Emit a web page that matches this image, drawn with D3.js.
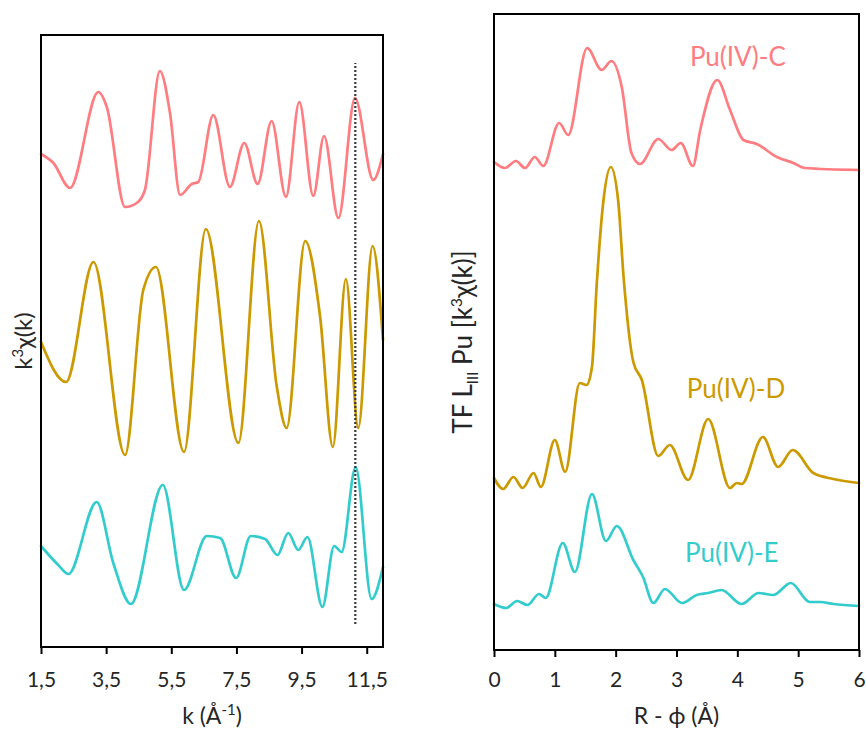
<!DOCTYPE html>
<html><head><meta charset="utf-8">
<script src="https://cdn.jsdelivr.net/npm/d3@7"></script>
<style>body{margin:0;background:#fff}</style>
</head><body><svg id="c" width="866" height="731"></svg>
<script>
// ---------- DATA ----------
const seriesNames = ["Pu(IV)-C", "Pu(IV)-D", "Pu(IV)-E"];
const seriesColors = ["#FF7C80", "#CC9900", "#33CCCC"];

// k-space (stacked, arbitrary units)
const kC   = [1.5, 1.88, 2.39, 3.26, 3.52, 4.08, 4.44, 4.69, 5.15, 5.46, 5.77, 6.13, 6.33, 6.79, 7.30, 7.74, 8.15, 8.58, 9.02, 9.43, 9.86, 10.19, 10.63, 11.14, 11.70, 12.0];
const chiC = [49.3, 48.4, 45.9, 55.5, 54.0, 44.0, 44.4, 45.7, 57.6, 53.4, 45.2, 46.3, 46.5, 53.2, 46.0, 50.4, 46.3, 52.6, 45.0, 54.5, 45.1, 51.1, 42.9, 54.9, 46.7, 49.3];

const kD   = [1.5, 2.27, 3.11, 4.08, 4.64, 5.03, 5.89, 6.56, 7.56, 8.19, 8.74, 9.04, 9.61, 10.07, 10.46, 10.86, 11.24, 11.68, 12.0];
const chiD = [30.5, 26.5, 38.5, 19.2, 35.7, 38.0, 19.5, 41.8, 20.4, 42.6, 26.0, 21.9, 40.6, 33.0, 20.0, 36.8, 21.9, 40.1, 30.7];

const kE   = [1.5, 2.03, 2.34, 3.21, 3.72, 4.26, 5.24, 5.89, 6.59, 7.0, 7.49, 7.94, 8.38, 8.76, 9.09, 9.40, 9.68, 10.14, 10.50, 10.73, 11.16, 11.65, 12.0];
const chiE = [10.1, 8.2, 7.3, 14.5, 8.4, 4.3, 16.2, 5.7, 11.1, 10.9, 6.9, 11.1, 10.8, 9.2, 11.4, 9.7, 11.0, 4.0, 10.1, 9.5, 18.0, 4.8, 8.0];

const kMarker = 11.15;
const kMarkerSpan = [2.3, 58.4];

// R-space FT magnitude (stacked, arbitrary units)
const rC  = [0, 0.18, 0.36, 0.51, 0.67, 0.81, 1.07, 1.22, 1.53, 1.77, 1.93, 2.10, 2.26, 2.40, 2.70, 2.92, 3.07, 3.27, 3.39, 3.67, 3.88, 4.10, 4.32, 4.65, 4.92, 5.11, 6.0];
const ftC = [48.8, 48.2, 48.9, 48.2, 49.3, 48.4, 52.7, 51.5, 60.2, 58.0, 58.9, 56.3, 49.7, 48.6, 51.1, 50.0, 50.7, 48.4, 52.0, 57.0, 54.0, 51.0, 50.6, 49.3, 48.7, 48.2, 48.0];

const rD  = [0, 0.15, 0.32, 0.47, 0.65, 0.77, 1.00, 1.17, 1.41, 1.52, 1.61, 1.69, 1.80, 1.92, 2.04, 2.13, 2.29, 2.43, 2.70, 2.89, 3.19, 3.52, 3.88, 3.99, 4.07, 4.42, 4.67, 4.91, 5.25, 5.58, 6.0];
const ftD = [17.2, 16.1, 17.3, 16.2, 17.7, 16.3, 21.0, 17.8, 26.7, 26.5, 28.3, 36.7, 45.0, 48.3, 45.0, 37.3, 28.8, 27.0, 19.4, 20.5, 17.0, 23.1, 16.2, 16.7, 16.6, 21.3, 18.3, 20.0, 17.7, 17.1, 16.7];

const rE  = [0, 0.20, 0.38, 0.55, 0.74, 0.85, 1.13, 1.33, 1.61, 1.84, 2.02, 2.29, 2.45, 2.62, 2.81, 3.09, 3.33, 3.52, 3.74, 4.07, 4.35, 4.59, 4.88, 5.19, 5.36, 5.58, 6.0];
const ftE = [4.6, 4.2, 4.9, 4.5, 5.6, 5.2, 10.7, 7.8, 15.6, 10.9, 12.4, 9.0, 7.3, 4.7, 6.1, 4.7, 5.5, 5.7, 6.0, 4.6, 5.7, 5.5, 6.7, 4.8, 4.8, 4.6, 4.4];

// series labels in R panel (R position, value position)
const labelR = [3.22, 3.17, 3.14];
const labelV = [58.4, 25.2, 8.8];

// ticks
const kTickValues = [1.5, 3.5, 5.5, 7.5, 9.5, 11.5];
const kTickLabels = ["1,5", "3,5", "5,5", "7,5", "9,5", "11,5"];
const rTickValues = [0, 1, 2, 3, 4, 5, 6];
const rTickLabels = ["0", "1", "2", "3", "4", "5", "6"];

// ---------- DRAW ----------
const FONT = "Lato, 'Open Sans', 'DejaVu Sans', sans-serif";
const svg = d3.select("#c").style("font-family", FONT);

const PL = {x0: 41, x1: 383, y0: 35, y1: 647};
const PR = {x0: 494, x1: 859, y0: 14, y1: 650};

const xL = d3.scaleLinear().domain([1.5, 12]).range([PL.x0, PL.x1]);
const yL = d3.scaleLinear().domain([0, 61.2]).range([PL.y1, PL.y0]);
const xR = d3.scaleLinear().domain([0, 6]).range([PR.x0, PR.x1]);
const yR = d3.scaleLinear().domain([0, 63.6]).range([PR.y1, PR.y0]);

function drawAxis(x, y0, vals, labels, pad) {
  const g = svg.append("g").attr("transform", `translate(0,${y0})`)
    .call(d3.axisBottom(x).tickValues(vals).tickFormat((d, i) => labels[i]).tickSize(7).tickPadding(pad));
  g.select(".domain").remove();
  g.selectAll(".tick line").attr("stroke", "#000").attr("stroke-width", 2);
  g.selectAll(".tick text").attr("fill", "#262626").style("font-size", "21px").style("font-family", FONT);
}
drawAxis(xL, PL.y1, kTickValues, kTickLabels, 18);
drawAxis(xR, PR.y1, rTickValues, rTickLabels, 15);

// curves
const lineL = d3.line().x(d => xL(d[0])).y(d => yL(d[1])).curve(d3.curveMonotoneX);
const lineR = d3.line().x(d => xR(d[0])).y(d => yR(d[1])).curve(d3.curveMonotoneX);

const leftSets = [[kC, chiC], [kD, chiD], [kE, chiE]];
const rightSets = [[rC, ftC], [rD, ftD], [rE, ftE]];

leftSets.forEach(([xs, ys], i) => {
  svg.append("path").datum(xs.map((v, j) => [v, ys[j]]))
    .attr("d", lineL).attr("fill", "none").attr("stroke", seriesColors[i])
    .attr("stroke-width", 2.7).attr("stroke-linejoin", "round").attr("stroke-linecap", "round");
});
rightSets.forEach(([xs, ys], i) => {
  svg.append("path").datum(xs.map((v, j) => [v, ys[j]]))
    .attr("d", lineR).attr("fill", "none").attr("stroke", seriesColors[i])
    .attr("stroke-width", 2.7).attr("stroke-linejoin", "round").attr("stroke-linecap", "round");
});

// dotted marker
svg.append("line")
  .attr("x1", xL(kMarker)).attr("x2", xL(kMarker))
  .attr("y1", yL(kMarkerSpan[0])).attr("y2", yL(kMarkerSpan[1]))
  .attr("stroke", "#3a3a3a").attr("stroke-width", 2.2).attr("stroke-dasharray", "2,2");

// frames
[PL, PR].forEach(p => {
  svg.append("rect").attr("x", p.x0).attr("y", p.y0)
    .attr("width", p.x1 - p.x0).attr("height", p.y1 - p.y0)
    .attr("fill", "none").attr("stroke", "#000").attr("stroke-width", 2);
});

// series labels
seriesNames.forEach((n, i) => {
  svg.append("text").attr("x", xR(labelR[i])).attr("y", yR(labelV[i]))
    .attr("fill", seriesColors[i]).style("font-size", "26px").text(n);
});

// axis titles
const tk = svg.append("text").attr("x", (PL.x0 + PL.x1) / 2).attr("y", 724)
  .attr("text-anchor", "middle").attr("fill", "#262626").style("font-size", "23px");
tk.append("tspan").text("k (Å");
tk.append("tspan").attr("dy", -9).style("font-size", "15px").text("-1");
tk.append("tspan").attr("dy", 9).text(")");

svg.append("text").attr("x", (PR.x0 + PR.x1) / 2).attr("y", 724)
  .attr("text-anchor", "middle").attr("fill", "#262626").style("font-size", "23px")
  .text("R - ϕ (Å)");

const ty = svg.append("text").attr("transform", `translate(32,${(PL.y0 + PL.y1) / 2}) rotate(-90)`)
  .attr("text-anchor", "middle").attr("fill", "#262626").style("font-size", "24px");
ty.append("tspan").text("k");
ty.append("tspan").attr("dy", -9).style("font-size", "15px").text("3");
ty.append("tspan").attr("dy", 9).text("χ(k)");

const tr = svg.append("text").attr("transform", `translate(472,342) rotate(-90)`)
  .attr("text-anchor", "middle").attr("fill", "#262626").style("font-size", "26px");
tr.append("tspan").text("TF L");
tr.append("tspan").attr("dy", 6).style("font-size", "15px").text("III");
tr.append("tspan").attr("dy", -6).text(" Pu [k");
tr.append("tspan").attr("dy", -10).style("font-size", "16px").text("3");
tr.append("tspan").attr("dy", 10).text("χ(k)]");
</script>
</body></html>
